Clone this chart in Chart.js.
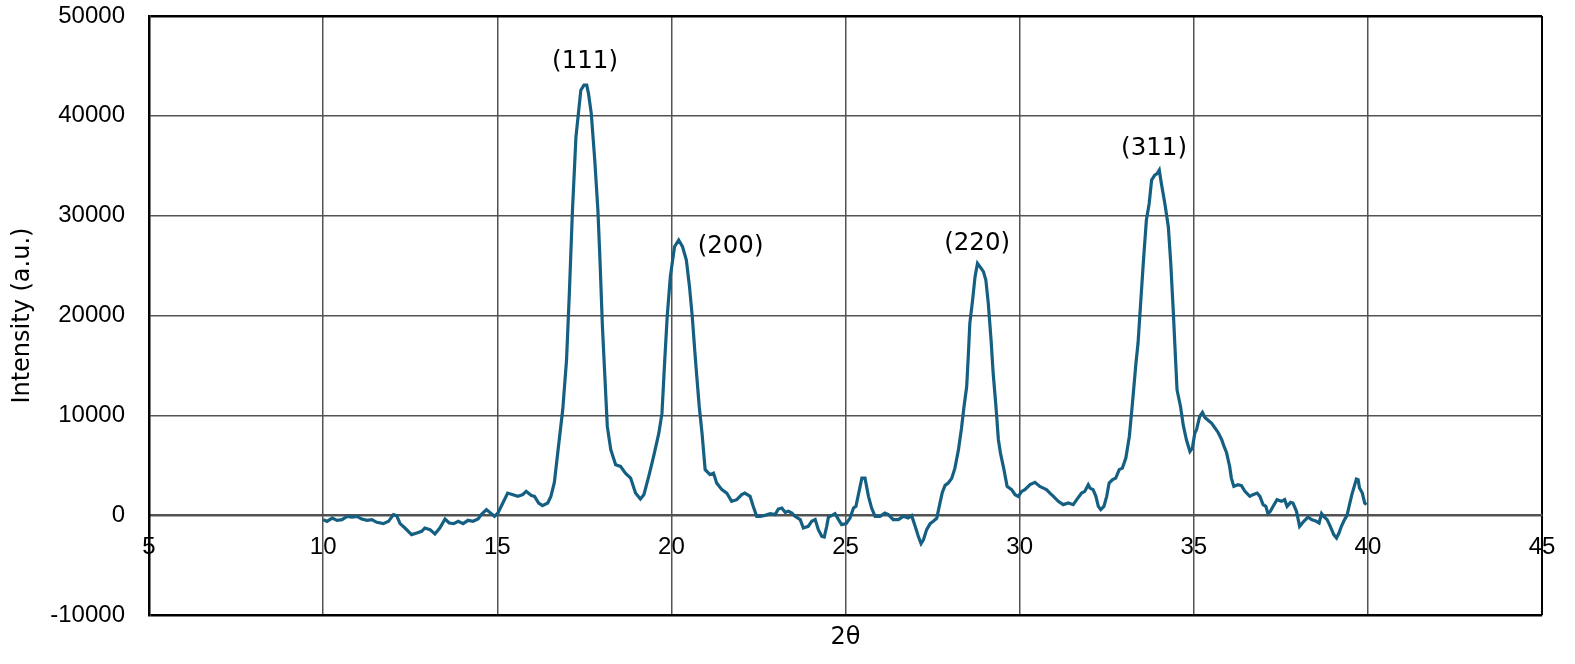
<!DOCTYPE html>
<html>
<head>
<meta charset="utf-8">
<script src="https://cdn.jsdelivr.net/npm/chart.js@4.4.1/dist/chart.umd.min.js"></script>
<style>
  html, body { margin: 0; padding: 0; background: #fff; }
  #wrap { width: 1575px; height: 664px; position: relative; }
</style>
</head>
<body>
<div id="wrap"><canvas id="xrdChart"></canvas></div>
<script>
// XRD pattern (2θ in degrees, intensity in a.u.)
const twoTheta = [
  10.00, 10.11, 10.26, 10.40, 10.54, 10.69, 10.83, 10.97, 11.11, 11.26,
  11.40, 11.54, 11.73, 11.88, 12.02, 12.11, 12.21, 12.35, 12.54, 12.69,
  12.83, 12.92, 13.07, 13.21, 13.35, 13.50, 13.62, 13.75, 13.88, 14.02,
  14.16, 14.30, 14.45, 14.54, 14.69, 14.83, 14.92, 15.02, 15.16, 15.30,
  15.45, 15.59, 15.73, 15.83, 15.97, 16.07, 16.19, 16.30, 16.45, 16.54,
  16.64, 16.78, 16.88, 16.99, 17.07, 17.16, 17.26, 17.40, 17.49, 17.57,
  17.62, 17.70, 17.80, 17.89, 17.95, 18.02, 18.09, 18.16, 18.26, 18.40,
  18.54, 18.68, 18.83, 18.97, 19.11, 19.21, 19.35, 19.49, 19.64, 19.73,
  19.81, 19.88, 19.97, 20.09, 20.21, 20.32, 20.43, 20.52, 20.60, 20.67,
  20.73, 20.80, 20.88, 20.97, 21.11, 21.21, 21.30, 21.45, 21.59, 21.73,
  21.88, 22.02, 22.11, 22.26, 22.35, 22.45, 22.55, 22.69, 22.84, 22.98,
  23.07, 23.17, 23.27, 23.36, 23.46, 23.55, 23.70, 23.79, 23.93, 24.03,
  24.13, 24.22, 24.32, 24.39, 24.46, 24.51, 24.60, 24.70, 24.80, 24.89,
  25.02, 25.13, 25.23, 25.30, 25.40, 25.47, 25.56, 25.66, 25.75, 25.85,
  25.99, 26.13, 26.23, 26.37, 26.52, 26.66, 26.80, 26.90, 27.00, 27.09,
  27.17, 27.24, 27.33, 27.43, 27.52, 27.62, 27.71, 27.78, 27.86, 27.95,
  28.05, 28.14, 28.24, 28.33, 28.40, 28.48, 28.53, 28.57, 28.65, 28.72,
  28.79, 28.86, 28.96, 29.03, 29.10, 29.18, 29.24, 29.32, 29.39, 29.45,
  29.55, 29.64, 29.77, 29.87, 29.96, 30.06, 30.15, 30.30, 30.44, 30.58,
  30.68, 30.77, 30.87, 30.97, 31.11, 31.25, 31.40, 31.54, 31.64, 31.78,
  31.87, 31.97, 32.02, 32.11, 32.19, 32.26, 32.33, 32.42, 32.50, 32.57,
  32.67, 32.76, 32.86, 32.95, 33.05, 33.15, 33.24, 33.34, 33.40, 33.45,
  33.55, 33.64, 33.72, 33.79, 33.88, 33.95, 34.01, 34.07, 34.17, 34.27,
  34.34, 34.41, 34.46, 34.52, 34.62, 34.70, 34.79, 34.89, 34.96, 35.03,
  35.08, 35.17, 35.25, 35.32, 35.42, 35.51, 35.60, 35.70, 35.80, 35.87,
  35.94, 36.03, 36.08, 36.15, 36.27, 36.37, 36.47, 36.61, 36.70, 36.82,
  36.90, 36.99, 37.07, 37.13, 37.20, 37.28, 37.39, 37.52, 37.61, 37.68,
  37.78, 37.85, 37.95, 38.04, 38.16, 38.28, 38.38, 38.52, 38.60, 38.67,
  38.73, 38.83, 38.92, 39.02, 39.10, 39.17, 39.24, 39.33, 39.40, 39.46,
  39.54, 39.67, 39.72, 39.76, 39.84, 39.91, 39.96
];
const intensity = [
  -430, -600, -270, -500, -430, -100, -170, -100, -370, -500,
  -430, -700, -830, -600, 70, -30, -830, -1270, -1930, -1770,
  -1600, -1270, -1430, -1870, -1270, -370, -770, -830, -600, -830,
  -500, -600, -370, 70, 570, 170, -100, 230, 1230, 2230,
  2070, 1900, 2070, 2400, 2000, 1900, 1230, 970, 1230, 1900,
  3300, 7570, 10570, 15570, 22230, 30570, 37900, 42570, 43070, 43070,
  42230, 40230, 35570, 30570, 25570, 18900, 13900, 8900, 6570, 5070,
  4900, 4230, 3730, 2230, 1630, 2070, 3900, 5900, 8230, 10230,
  15570, 19900, 23900, 26900, 27570, 26900, 25570, 22900, 19900, 16570,
  13900, 10900, 8230, 4570, 4070, 4230, 3230, 2570, 2230, 1400,
  1570, 2070, 2230, 1900, 900, -100, -100, 0, 170, 70,
  630, 730, 300, 400, 230, -100, -430, -1270, -1100, -600,
  -430, -1430, -2100, -2170, -1100, -170, -30, 170, -430, -930,
  -830, -270, 730, 900, 2570, 3730, 3730, 1900, 730, -100,
  -100, 230, 70, -430, -430, -100, -270, -30, -1100, -2100,
  -2830, -2430, -1430, -830, -600, -300, 1200, 2300, 3000, 3230,
  3700, 4700, 6500, 8700, 10800, 12900, 16230, 19230, 21570, 23900,
  25230, 24900, 24400, 23570, 21230, 17570, 14230, 10900, 7570, 6230,
  4570, 2900, 2570, 2070, 1900, 2400, 2570, 3070, 3300, 2900,
  2730, 2570, 2230, 1900, 1400, 1070, 1230, 1070, 1570, 2230,
  2400, 3070, 2730, 2570, 1900, 900, 570, 900, 1900, 3230,
  3570, 3730, 4570, 4730, 5730, 7900, 11230, 15230, 17230, 19900,
  25230, 29570, 31230, 33570, 34070, 34230, 34570, 33230, 31230, 28900,
  25230, 20570, 16900, 12570, 10900, 9000, 7570, 6400, 6730, 8230,
  8570, 9900, 10300, 9800, 9500, 9230, 8800, 8300, 7600, 6900,
  6300, 4900, 3730, 2900, 3070, 2970, 2400, 1900, 2070, 2230,
  1900, 1070, 900, 170, 400, 900, 1570, 1400, 1570, 900,
  1300, 1230, 400, -1100, -600, -170, -430, -600, -770, 170,
  -100, -430, -1100, -1930, -2270, -1770, -1100, -430, -30, 900,
  2070, 3630, 3570, 2730, 2230, 1230, 1070
];

const xTickValues = [5, 10, 15, 20, 25, 30, 35, 40, 45];
const yTickValues = [-10000, 0, 10000, 20000, 30000, 40000, 50000];

const peakNames = ['(111)', '(200)', '(220)', '(311)'];
const peakTheta = [17.52, 21.70, 28.78, 33.86];
const peakHeight = [45430, 26930, 27180, 36680];

const TICK_FONT = '"Liberation Sans", Arial, Helvetica, sans-serif';
const TEXT_FONT = '"DejaVu Sans", "Liberation Sans", sans-serif';
const GRID = '#525252';

// (hkl) labels above the peaks, placed through the chart scales
const peakLabels = {
  id: 'peakLabels',
  afterDatasetsDraw(chart) {
    const { ctx, scales: { x, y } } = chart;
    ctx.save();
    ctx.font = '24.5px ' + TEXT_FONT;
    ctx.fillStyle = '#000';
    ctx.textAlign = 'center';
    ctx.textBaseline = 'middle';
    peakNames.forEach((name, i) => {
      ctx.fillText(name, x.getPixelForValue(peakTheta[i]), y.getPixelForValue(peakHeight[i]));
    });
    ctx.restore();
  }
};

const isEdgeY = v => v === -10000 || v === 50000;

const ctx = document.getElementById('xrdChart').getContext('2d');
new Chart(ctx, {
  type: 'line',
  data: {
    datasets: [{
      data: twoTheta.map((t, i) => ({ x: t, y: intensity[i] })),
      borderColor: '#156082',
      borderWidth: 3.2,
      pointRadius: 0,
      tension: 0,
      fill: false
    }]
  },
  options: {
    responsive: true,
    maintainAspectRatio: false,
    animation: false,
    layout: { padding: { top: 16, right: 33, left: 0, bottom: 0 } },
    plugins: {
      legend: { display: false },
      tooltip: { enabled: false },
      title: {
        display: true,
        text: '2θ',
        position: 'bottom',
        fullSize: false,
        color: '#000',
        font: { size: 24, weight: 'normal', family: TEXT_FONT },
        padding: { top: 8, bottom: 12 }
      }
    },
    scales: {
      x: {
        type: 'linear',
        min: 5,
        max: 45,
        position: { y: 0 },
        afterBuildTicks: s => { s.ticks = xTickValues.map(v => ({ value: v })); },
        grid: {
          drawTicks: false,
          color: c => (c.tick && (c.tick.value === 45 || c.tick.value === 5)) ? '#000' : GRID,
          lineWidth: c => (c.tick && c.tick.value === 45) ? 2 : 1.5
        },
        border: { color: GRID, width: 2 },
        ticks: {
          color: '#000',
          font: { size: 24, family: TICK_FONT },
          padding: 18,
          maxRotation: 0,
          autoSkip: false,
          callback: v => String(v)
        }
      },
      y: {
        min: -10000,
        max: 50000,
        afterBuildTicks: s => { s.ticks = yTickValues.map(v => ({ value: v })); },
        afterFit: s => { s.width = 149; },
        grid: {
          drawTicks: true,
          tickLength: 23,
          tickColor: 'rgba(0,0,0,0)',
          color: c => (c.tick && isEdgeY(c.tick.value)) ? '#000' : GRID,
          lineWidth: c => (c.tick && isEdgeY(c.tick.value)) ? 2.5 : 1.5
        },
        border: { color: '#000', width: 2.5 },
        ticks: {
          color: '#000',
          font: { size: 24, family: TICK_FONT },
          padding: 1,
          callback: v => String(v)
        },
        title: {
          display: true,
          text: 'Intensity (a.u.)',
          color: '#000',
          font: { size: 24, family: TEXT_FONT },
          padding: { top: 8, bottom: 0 }
        }
      }
    }
  },
  plugins: [peakLabels]
});
</script>
</body>
</html>
